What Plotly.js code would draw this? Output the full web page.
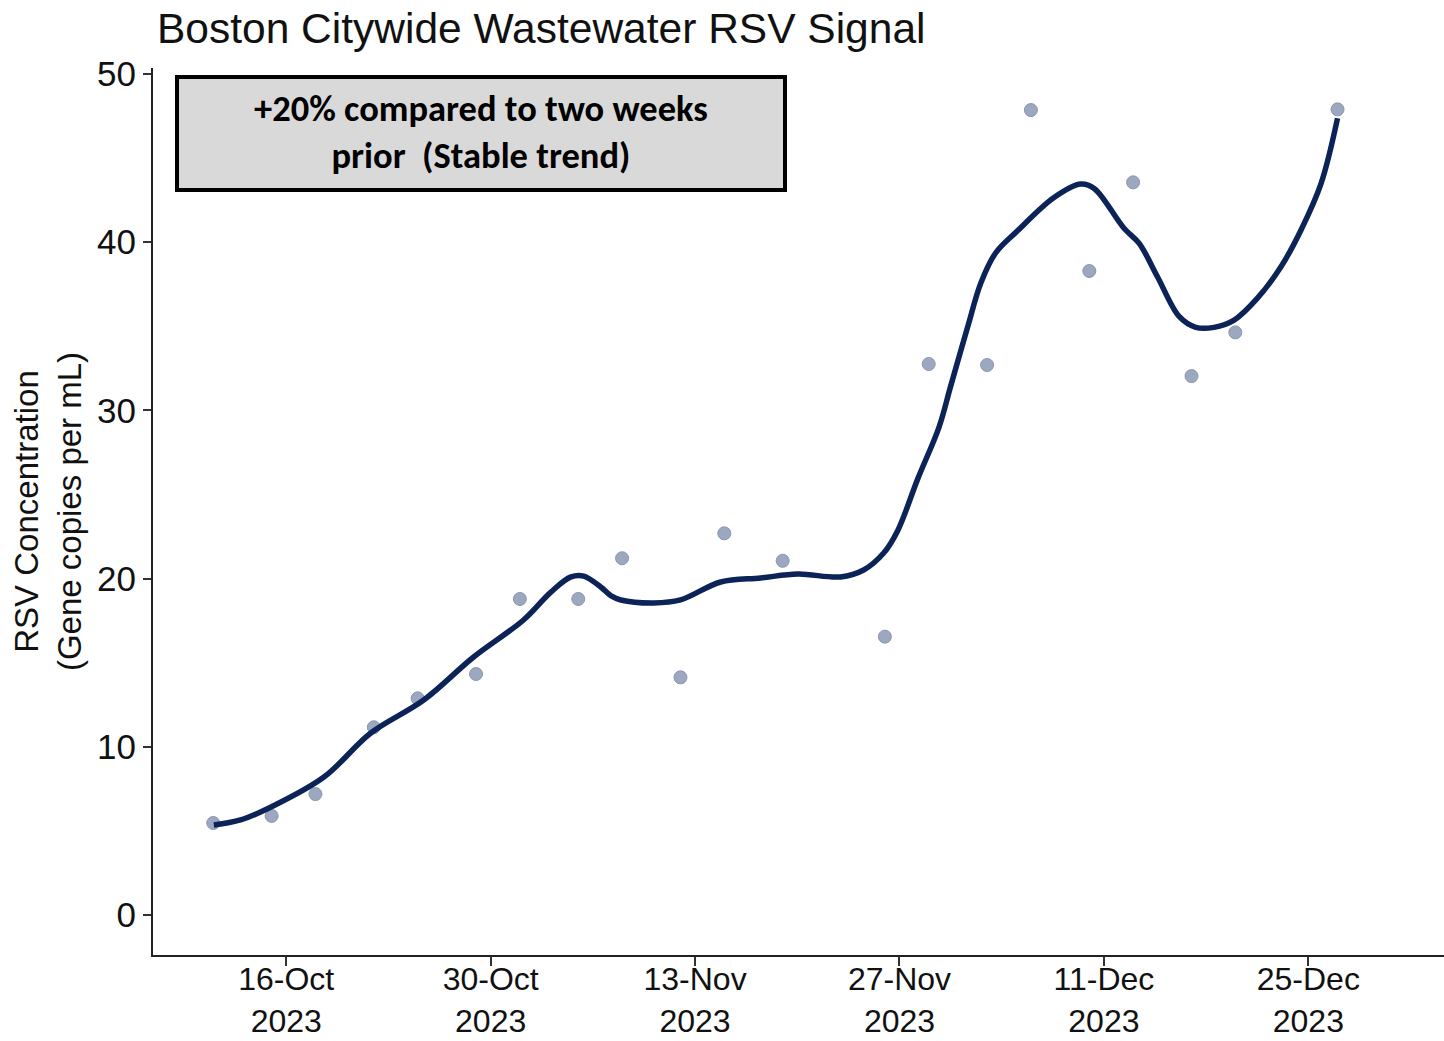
<!DOCTYPE html>
<html>
<head>
<meta charset="utf-8">
<script src="https://cdn.plot.ly/plotly-3.0.1.min.js"></script>
<style>
  html, body { margin: 0; padding: 0; background: #ffffff; }
  #chart { width: 1444px; height: 1041px; }
</style>
</head>
<body>
<div id="chart"></div>
<script>
// Sample dates and measured RSV concentrations (gene copies per mL)
const sampleDates = [
  '2023-10-11', '2023-10-15', '2023-10-18', '2023-10-22', '2023-10-25', '2023-10-29',
  '2023-11-01', '2023-11-05', '2023-11-08', '2023-11-12', '2023-11-15', '2023-11-19',
  '2023-11-26', '2023-11-29', '2023-12-03', '2023-12-06', '2023-12-10', '2023-12-13',
  '2023-12-17', '2023-12-20', '2023-12-27'
];
const sampleValues = [
  5.47, 5.89, 7.19, 11.16, 12.88, 14.33,
  18.79, 18.79, 21.21, 14.13, 22.69, 21.06,
  16.55, 32.76, 32.70, 47.86, 38.29, 43.56,
  32.04, 34.64, 47.90
];

// Smoothed trend line
const trendDates = [
  '2023-10-11 01:00', '2023-10-12 21:00', '2023-10-14 23:00', '2023-10-18 14:00',
  '2023-10-21 19:00', '2023-10-25 10:00', '2023-10-28 20:00', '2023-11-01 06:00',
  '2023-11-03 03:00', '2023-11-04 12:00', '2023-11-05 09:00', '2023-11-06 13:00',
  '2023-11-07 06:00', '2023-11-07 22:00', '2023-11-10 04:00', '2023-11-12 00:00',
  '2023-11-14 18:00', '2023-11-17 12:00', '2023-11-20 01:00', '2023-11-22 23:00',
  '2023-11-24 13:00', '2023-11-25 22:00', '2023-11-26 21:00', '2023-11-28 06:00',
  '2023-11-29 17:00', '2023-11-30 12:00', '2023-12-01 16:00', '2023-12-02 14:00',
  '2023-12-03 14:00', '2023-12-05 02:00', '2023-12-07 14:00', '2023-12-09 10:00',
  '2023-12-10 08:00', '2023-12-12 09:00', '2023-12-13 10:00', '2023-12-14 16:00',
  '2023-12-16 04:00', '2023-12-17 07:00', '2023-12-18 13:00', '2023-12-19 22:00',
  '2023-12-21 12:00', '2023-12-23 03:00', '2023-12-24 12:00', '2023-12-25 21:00',
  '2023-12-27 00:00'
];
const trendValues = [
  5.35, 5.65, 6.42, 8.20,
  10.82, 12.78, 15.34, 17.54,
  19.20, 20.10, 20.15, 19.50,
  18.97, 18.73, 18.55, 18.73,
  19.80, 20.04, 20.27, 20.10,
  20.51, 21.52, 22.85, 25.93,
  29.01, 31.43, 34.96, 37.60,
  39.36, 40.68, 42.66, 43.46,
  43.20, 40.83, 39.93, 37.95,
  35.57, 34.94, 34.94, 35.37,
  36.66, 38.54, 40.73, 43.50,
  47.37
];

// Axis ticks
const xTickVals = ['2023-10-16', '2023-10-30', '2023-11-13', '2023-11-27', '2023-12-11', '2023-12-25'];
const xTickText = ['16-Oct<br>2023', '30-Oct<br>2023', '13-Nov<br>2023', '27-Nov<br>2023', '11-Dec<br>2023', '25-Dec<br>2023'];
const yTickVals = [0, 10, 20, 30, 40, 50];

const titleText = 'Boston Citywide Wastewater RSV Signal';
const yTitleText = 'RSV Concentration<br>(Gene copies per mL)';
const boxLines = ['+20% compared to two weeks', 'prior  (Stable trend)'];

const baseFont = '"Liberation Sans", Arial, Helvetica, sans-serif';

const traces = [
  {
    type: 'scatter',
    mode: 'markers',
    x: sampleDates,
    y: sampleValues,
    marker: { size: 13, color: '#9ca7c0', line: { color: '#8a95b0', width: 1 } },
    hoverinfo: 'x+y',
    showlegend: false
  },
  {
    type: 'scatter',
    mode: 'lines',
    x: trendDates,
    y: trendValues,
    line: { color: '#0b2357', width: 5.5, shape: 'spline', smoothing: 1 },
    hoverinfo: 'x+y',
    showlegend: false
  }
];

const layout = {
  width: 1444,
  height: 1041,
  paper_bgcolor: '#ffffff',
  plot_bgcolor: '#ffffff',
  margin: { l: 153, r: 0, t: 68, b: 86, pad: 0 },
  font: { family: baseFont, color: '#111111' },
  title: {
    text: titleText,
    font: { family: baseFont, size: 42.5, color: '#111111' },
    x: 157 / 1444,
    xref: 'container',
    xanchor: 'left',
    y: 1 - 28 / 1041,
    yref: 'container',
    yanchor: 'middle'
  },
  xaxis: {
    type: 'date',
    range: ['2023-10-06 21:00', '2024-01-03 07:00'],
    tickmode: 'array',
    tickvals: xTickVals,
    ticktext: xTickText,
    tickfont: { family: baseFont, size: 32, color: '#111111' },
    ticks: 'outside',
    ticklen: 9,
    tickwidth: 2,
    tickcolor: '#333333',
    ticklabelstandoff: -14,
    showline: true,
    linecolor: '#222222',
    linewidth: 2,
    showgrid: false,
    zeroline: false,
    fixedrange: true
  },
  yaxis: {
    range: [-2.38, 50.36],
    tickmode: 'array',
    tickvals: yTickVals,
    tickfont: { family: baseFont, size: 35, color: '#111111' },
    ticks: 'outside',
    ticklen: 8,
    tickwidth: 2,
    tickcolor: '#333333',
    showline: true,
    linecolor: '#222222',
    linewidth: 2,
    showgrid: false,
    zeroline: false,
    title: {
      text: yTitleText,
      font: { family: baseFont, size: 33, color: '#111111' },
      standoff: 6
    },
    fixedrange: true
  },
  shapes: [
    {
      type: 'rect',
      xref: 'paper', yref: 'paper',
      x0: (177 - 153) / 1291, x1: (785 - 153) / 1291,
      y0: (955 - 190) / 887, y1: (955 - 77) / 887,
      fillcolor: '#d9d9d9',
      line: { color: '#000000', width: 4 },
      layer: 'above'
    }
  ],
  annotations: [
    {
      xref: 'paper', yref: 'paper',
      x: (481 - 153) / 1291,
      y: (955 - 132) / 887,
      xanchor: 'center', yanchor: 'middle',
      text: boxLines.map(function (s) { return '<b>' + s + '</b>'; }).join('<br>'),
      showarrow: false,
      align: 'center',
      font: { family: 'Carlito, Lato, "Open Sans", sans-serif', size: 36.5, color: '#000000' }
    }
  ]
};

Plotly.newPlot('chart', traces, layout, { displayModeBar: false, staticPlot: true });
</script>
</body>
</html>
